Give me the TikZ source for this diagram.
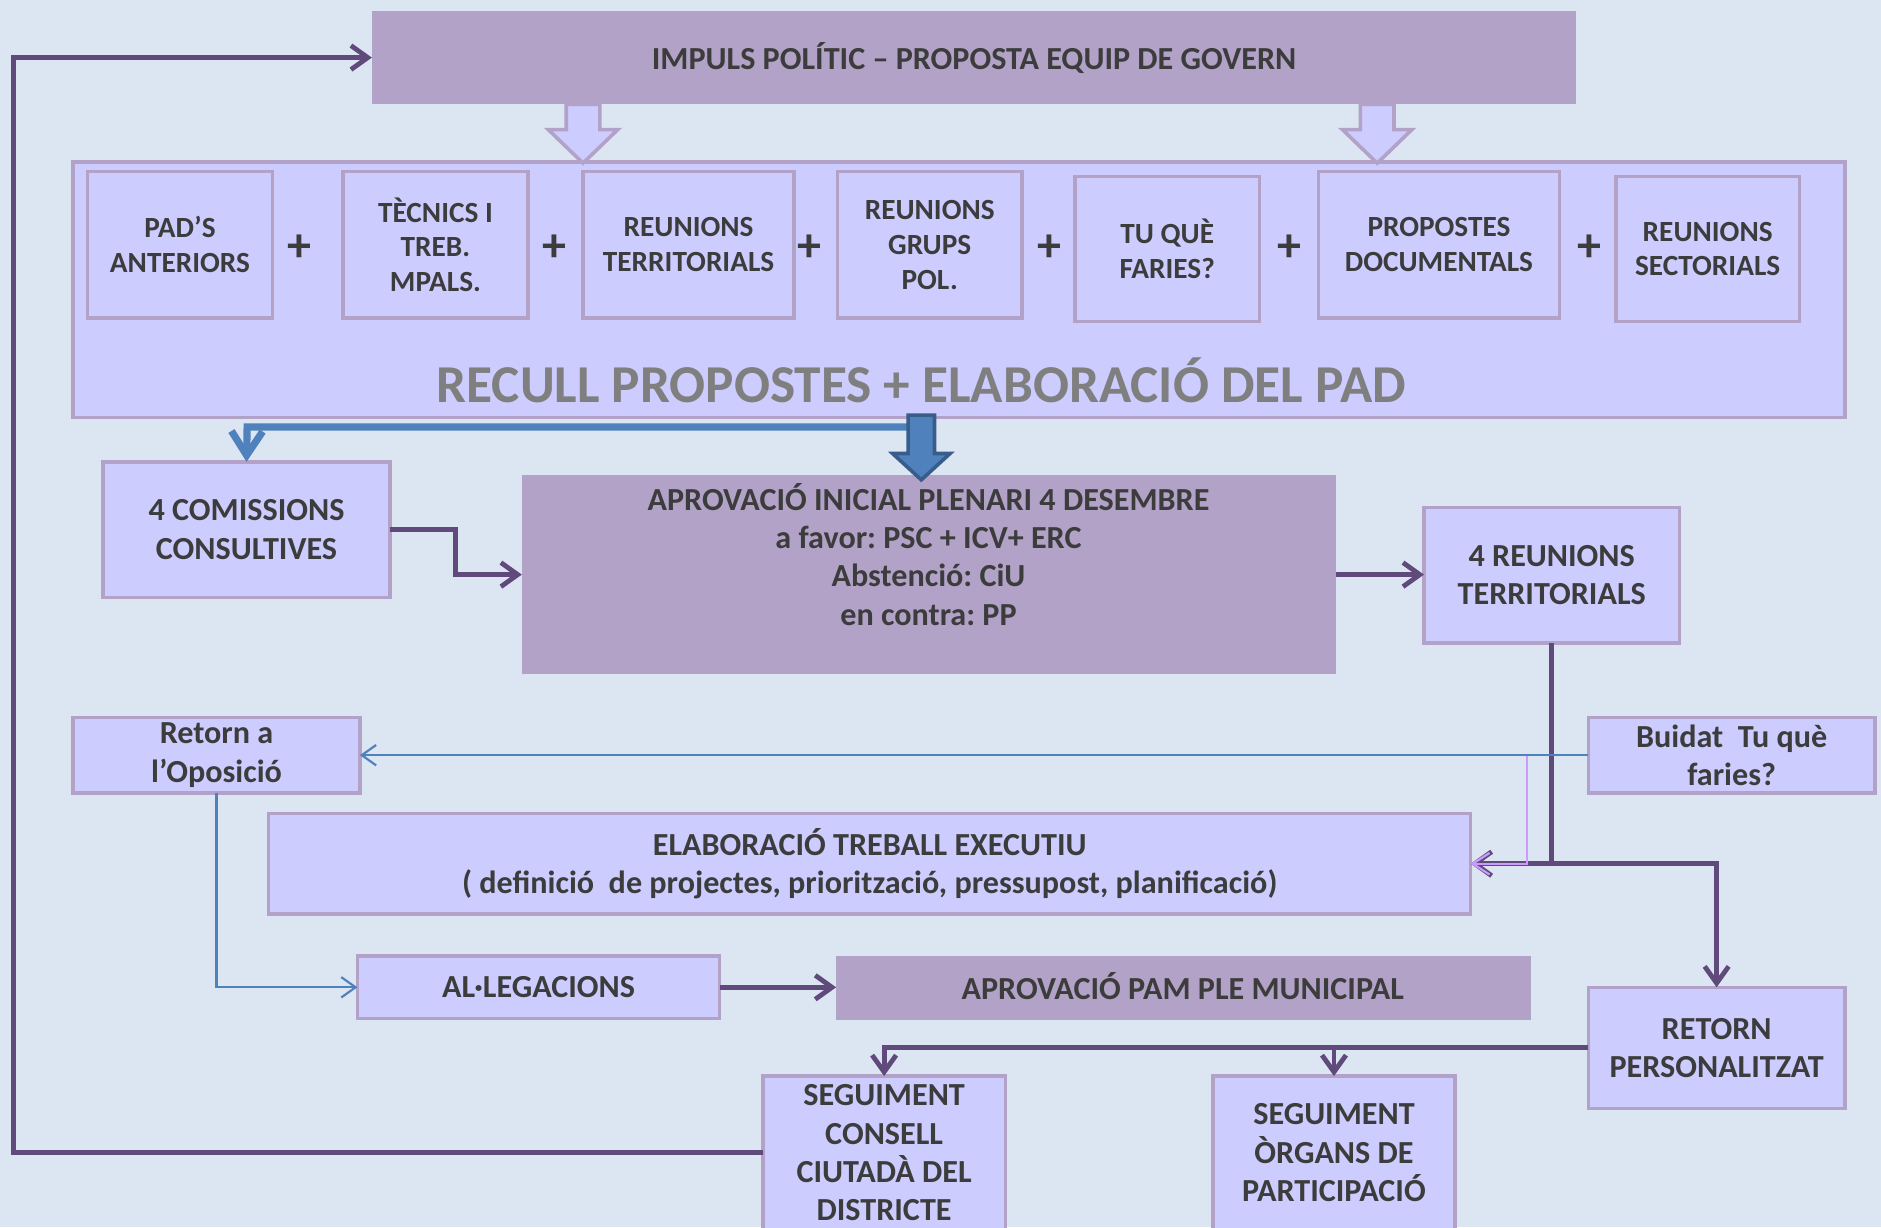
\documentclass[tikz,border=0pt]{standalone}
\usepackage{fontspec}
\setmainfont{Carlito}
\frenchspacing
\usetikzlibrary{arrows.meta}
\definecolor{bg}{HTML}{DCE6F2}
\definecolor{lav}{HTML}{CCCCFF}
\definecolor{lavb}{HTML}{B2A2C7}
\definecolor{txt}{HTML}{3C3C3C}
\definecolor{ttl}{HTML}{7F7F7F}
\definecolor{purp}{HTML}{604A7B}
\definecolor{blu}{HTML}{4F81BD}
\definecolor{dblu}{HTML}{385D8A}
\definecolor{pnk}{HTML}{CC99FF}
\newcommand\bx[7][]{\node[#1, minimum width={(#5-#3)*0.5pt}, minimum height={(#6-#4)*0.5pt}] (#2) at ({(#3+#5)/2},{(#4+#6)/2}) {#7};}
\tikzset{
  base/.style={inner sep=0pt, outer sep=0pt, text=txt, align=center, font=\bfseries\fontsize{13.4}{16}\selectfont},
  lbox/.style={base, draw=lavb, fill=lav, line width=1.4pt},
  dbox/.style={base, fill=lavb},
  ibox/.style={lbox, font=\bfseries\fontsize{12.2}{14.5}\selectfont},
  pline/.style={draw=purp, line width=2pt},
  parrow/.style={pline, -{Straight Barb[length=7pt,width=10pt]}},
  barrow/.style={draw=blu, line width=0.9pt, -{Straight Barb[length=6pt,width=8.5pt]}},
  karrow/.style={draw=pnk, line width=0.9pt, -{Straight Barb[length=7pt,width=9pt]}},
  plussign/.style={text=txt, font=\bfseries\fontsize{20}{24}\selectfont, inner sep=0pt},
  hollowarrow/.style={fill=lav, draw=lavb, line width=1.5pt, line join=miter},
  bluearrowshape/.style={fill=blu, draw=dblu, line width=1.5pt, line join=miter},
}
\begin{document}
\begin{tikzpicture}[x=0.5pt,y=-0.5pt]
\fill[bg] (0,0) rectangle (1568,1023);
\useasboundingbox (0,0) rectangle (1568,1023);
\clip (0,0) rectangle (1568,1023);

% top
\bx[dbox]{impuls}{310}{9}{1314}{87}{IMPULS POLÍTIC – PROPOSTA EQUIP DE GOVERN}
\bx[lbox]{recull}{61}{135}{1538}{348}{}
\node[font=\bfseries\fontsize{22.2}{26}\selectfont, text=ttl, inner sep=0pt] (title) at (768,317) {RECULL PROPOSTES + ELABORACIÓ DEL PAD};
\draw[hollowarrow] (472,87) -- (500,87) -- (500,108) -- (515,108) -- (486,136) -- (457,108) -- (472,108) -- cycle;
\draw[hollowarrow] (1134,87) -- (1162,87) -- (1162,108) -- (1177,108) -- (1148,136) -- (1119,108) -- (1134,108) -- cycle;

\bx[ibox]{pads}{73}{143}{227}{265}{PAD’S\\ANTERIORS}
\bx[ibox]{tecn}{286}{143}{440}{265}{TÈCNICS I\\TREB.\\MPALS.}
\bx[ibox]{rter}{486}{143}{662}{265}{REUNIONS\\TERRITORIALS}
\bx[ibox]{rgrp}{698}{143}{852}{265}{REUNIONS\\GRUPS\\POL.}
\bx[ibox]{tuque}{896}{147}{1050}{268}{TU QUÈ\\FARIES?}
\bx[ibox]{prop}{1099}{143}{1300}{265}{PROPOSTES\\DOCUMENTALS}
\bx[ibox]{rsec}{1347}{147}{1500}{268}{REUNIONS\\SECTORIALS}
\node[plussign] (p1) at (250,207) {+};
\node[plussign] (p2) at (462,207) {+};
\node[plussign] (p3) at (675,207) {+};
\node[plussign] (p4) at (875,207) {+};
\node[plussign] (p5) at (1075,207) {+};
\node[plussign] (p6) at (1325,207) {+};

% middle
\bx[lbox]{comm}{86}{385}{325}{498}{4 COMISSIONS\\CONSULTIVES}
\bx[dbox]{aprov}{435}{396}{1114}{562}{}
\node[base] (aprovtxt) at (774,462) {APROVACIÓ INICIAL PLENARI 4 DESEMBRE\\a favor: PSC + ICV+ ERC\\Abstenció: CiU\\en contra: PP};
\bx[lbox]{reun4}{1187}{423}{1400}{536}{4 REUNIONS\\TERRITORIALS}
\bx[lbox]{retop}{61}{598}{300}{661}{Retorn a\\l’Oposició}
\bx[lbox]{buid}{1324}{598}{1563}{661}{Buidat\ \ Tu què\\faries?}
\bx[lbox]{elab}{224}{678}{1226}{762}{ELABORACIÓ TREBALL EXECUTIU\\( definició\ \ de projectes, priorització, pressupost, planificació)}
\bx[lbox]{alleg}{298}{797}{600}{849}{AL·LEGACIONS}
\bx[dbox]{pam}{697}{797}{1276}{850}{}
\node[base] (pamtxt) at (986,822) {APROVACIÓ PAM PLE MUNICIPAL};
\bx[lbox]{retp}{1324}{823}{1538}{924}{RETORN\\PERSONALITZAT}
\bx[lbox]{segc}{636}{897}{838}{1025}{SEGUIMENT\\CONSELL\\CIUTADÀ DEL\\DISTRICTE}
\bx[lbox]{sego}{1011}{897}{1213}{1025}{SEGUIMENT\\ÒRGANS DE\\PARTICIPACIÓ}

% blue connectors from RECULL
\coordinate (bstart) at (757,356);
\draw[blu, line width=3pt, -{Straight Barb[length=10pt,width=13pt]}] (bstart) -- (206,356) -- (comm.north);
\draw[bluearrowshape] (757,346) -- (779,346) -- (779,378) -- (792,378) -- (768,400) -- (744,378) -- (757,378) -- cycle;

% purple connectors
\draw[parrow] (segc.west) -- (11,961) -- (11,48) -- (impuls.west);
\draw[parrow] (comm.east) -- (380,441.5) |- (aprov.west);
\draw[parrow] (aprov.east) -- (aprov.east -| reun4.west);
\coordinate (jn) at (reun4.south |- elab.east);
\draw[pline] (reun4.south) -- (jn);
\draw[parrow] (jn) -- (elab.east);
\draw[parrow] (jn) -| (retp.north);
\draw[parrow] (alleg.east) -- (alleg.east -| pam.west);
\draw[parrow] (retp.west) -| (segc.north);
\draw[parrow] (sego.north |- retp.west) -- (sego.north);

% thin connectors
\draw[karrow] (buid.west) -- (1273,629.5) |- (elab.east);
\draw[barrow] (buid.west) -- (retop.east);
\draw[barrow] (retop.south) |- (alleg.west);
\end{tikzpicture}
\end{document}
